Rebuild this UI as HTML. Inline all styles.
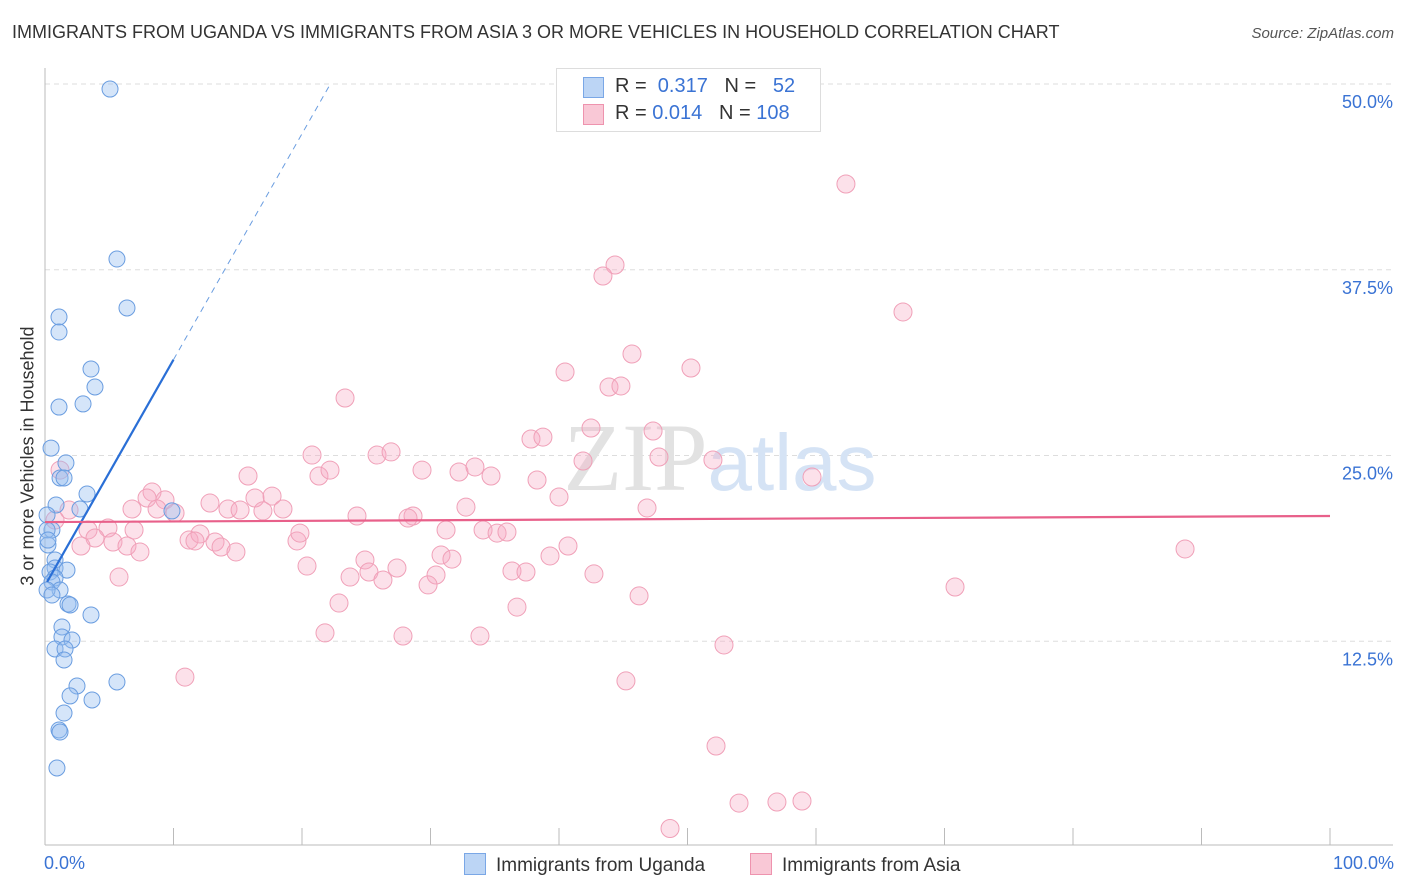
<!DOCTYPE html>
<html><head><meta charset="utf-8"><style>
body{margin:0;background:#fff;font-family:"Liberation Sans",sans-serif}
#wrap{position:relative;width:1406px;height:892px;overflow:hidden}
.t{position:absolute;white-space:nowrap}
</style></head><body>
<div id="wrap">
<div class="t" style="left:12px;top:22px;font-size:18px;color:#333">IMMIGRANTS FROM UGANDA VS IMMIGRANTS FROM ASIA 3 OR MORE VEHICLES IN HOUSEHOLD CORRELATION CHART</div>
<div class="t" style="right:12px;top:25px;font-size:15px;color:#555;font-style:italic">Source: ZipAtlas.com</div>
<div class="t" style="left:28px;top:456px;font-size:18px;color:#333;transform:translate(-50%,-50%) rotate(-90deg)">3 or more Vehicles in Household</div>
<svg id="plot" width="1406" height="892" style="position:absolute;left:0;top:0"></svg>
<div class="t" style="left:556px;top:68px;width:263px;height:62px;border:1px solid #ddd;background:#fff;font-size:20px;color:#333">
 <div style="position:absolute;left:26px;top:8px;width:19px;height:19px;background:#bcd5f5;border:1px solid #7aa7e6"></div>
 <div style="position:absolute;left:58px;top:6px">R = <span style="color:#3a73d4">&nbsp;0.317</span>&nbsp;&nbsp;&nbsp;N = &nbsp;&nbsp;<span style="color:#3a73d4">52</span></div>
 <div style="position:absolute;left:26px;top:35px;width:19px;height:19px;background:#f9c8d6;border:1px solid #ee93ae"></div>
 <div style="position:absolute;left:58px;top:33px">R = <span style="color:#3a73d4">0.014</span>&nbsp;&nbsp;&nbsp;N = <span style="color:#3a73d4">108</span></div>
</div>
<div class="t" style="left:44px;top:853px;font-size:18px;color:#3a73d4">0.0%</div>
<div class="t" style="right:12px;top:853px;font-size:18px;color:#3a73d4">100.0%</div>
<div class="t" style="left:464px;top:853px;font-size:19px;color:#333"><span style="display:inline-block;width:20px;height:20px;background:#bcd5f5;border:1px solid #7aa7e6;vertical-align:-4px;margin-right:10px"></span>Immigrants from Uganda</div>
<div class="t" style="left:750px;top:853px;font-size:19px;color:#333"><span style="display:inline-block;width:20px;height:20px;background:#f9c8d6;border:1px solid #ee93ae;vertical-align:-4px;margin-right:10px"></span>Immigrants from Asia</div>
</div>
<script>
const yTicks=[12.5,25,37.5,50];
const yTickLabels=["12.5%","25.0%","37.5%","50.0%"];
const ugX=[5.06,5.6,6.38,1.09,1.09,3.58,3.89,1.09,2.96,0.47,1.63,1.17,1.48,3.27,2.72,0.86,0.16,0.54,0.16,0.23,0.78,0.78,1.71,0.39,0.78,0.54,1.17,1.79,1.95,0.16,3.58,1.32,1.32,2.1,0.78,1.56,1.48,5.6,2.49,1.95,3.66,1.48,1.09,1.17,0.93,9.88,0.23,0.54];
const ugY=[49.66,38.22,34.93,34.32,33.31,30.82,29.61,28.26,28.47,25.5,24.5,23.49,23.49,22.41,21.4,21.67,21.0,19.99,19.99,18.98,17.97,17.43,17.29,17.16,16.76,16.49,15.95,15.01,14.94,15.95,14.27,13.46,12.79,12.58,11.98,11.98,11.24,9.76,9.49,8.82,8.55,7.67,6.53,6.39,3.97,21.27,19.31,15.61];
const asX=[62.33,44.36,43.42,66.77,45.68,40.47,50.27,43.89,44.82,23.35,42.49,37.82,38.75,47.32,20.78,25.84,26.93,41.87,47.78,51.98,15.8,21.32,22.18,29.34,32.22,33.46,34.71,38.29,59.69,8.33,9.34,7.94,12.84,16.34,17.67,14.24,15.18,16.96,18.52,24.28,28.64,28.25,32.76,46.85,40.0,6.77,8.72,10.12,1.87,3.35,4.9,6.93,3.89,11.21,12.06,13.23,13.7,14.86,11.67,5.29,6.38,7.39,2.8,19.61,19.84,31.21,34.09,35.18,35.95,40.7,39.3,30.82,31.67,24.9,20.39,23.74,25.21,26.3,27.39,30.43,29.81,36.34,37.43,42.72,5.76,22.88,36.73,46.23,70.82,88.72,21.79,27.86,33.85,52.84,10.89,45.21,52.22,54.01,56.96,58.91,48.64,0.78,1.17];
const asY=[43.27,37.82,37.08,34.66,31.83,30.62,30.89,29.61,29.68,28.87,26.85,26.11,26.24,26.65,25.03,25.03,25.24,24.63,24.9,24.7,23.62,23.62,24.02,24.02,23.89,24.23,23.62,23.35,23.55,22.54,22.01,22.14,21.8,22.14,22.27,21.4,21.33,21.27,21.4,20.93,20.93,20.79,21.53,21.47,22.21,21.4,21.4,21.13,21.33,19.99,20.12,19.99,19.45,19.31,19.72,19.18,18.84,18.51,19.25,19.18,18.91,18.51,18.91,19.25,19.78,19.99,19.99,19.78,19.85,18.91,18.24,18.3,18.03,17.97,17.56,16.82,17.16,16.62,17.43,16.96,16.29,17.23,17.16,17.03,16.82,15.07,14.8,15.55,16.15,18.71,13.06,12.85,12.85,12.25,10.09,9.83,5.45,1.61,1.68,1.75,-0.1,20.66,24.02];
const ugTrend=[16.25,1.52];
const asTrend=[20.52,20.93];
const NS="http://www.w3.org/2000/svg";
const svg=document.getElementById('plot');
const X=v=>45+v*12.85, Y=v=>827-v*14.86;
function mk(tag,a){const e=document.createElementNS(NS,tag);for(const k in a)e.setAttribute(k,a[k]);svg.appendChild(e);return e;}
yTicks.forEach((t,i)=>{
 const g=mk('line',{x1:45,x2:1393,y1:Y(t),y2:Y(t),stroke:'#ddd','stroke-dasharray':'5,4'});
 
 
 const l=mk('text',{x:1393,y:Y(t)+24,'text-anchor':'end','font-size':18,fill:'#3a73d4','font-family':'Liberation Sans, sans-serif'});
 l.textContent=yTickLabels[i];
 
 
});
const ax=mk('line',{x1:45,x2:45,y1:68,y2:845,stroke:'#bbb'});


const bx=mk('line',{x1:45,x2:1393,y1:845,y2:845,stroke:'#bbb'});


for(let k=1;k<=10;k++){const tk=mk('line',{x1:X(k*10),x2:X(k*10),y1:828,y2:845,stroke:'#bbb'});
 
 }
const wm=mk('text',{x:720,y:490,'text-anchor':'middle','font-size':96,'font-family':'Liberation Serif, serif',fill:'#e2e2e2'});
wm.innerHTML='ZIP<tspan fill="#d5e3f5" font-family="Liberation Sans, sans-serif" font-size="80">atlas</tspan>';


asX.forEach((x,i)=>{const c=mk('circle',{cx:X(x),cy:Y(asY[i]),r:9,fill:'rgba(246,170,194,0.35)',stroke:'#f0a0b8','stroke-width':1});
 
 });
ugX.forEach((x,i)=>{const c=mk('circle',{cx:X(x),cy:Y(ugY[i]),r:8,fill:'rgba(150,190,240,0.4)',stroke:'#6a9de0','stroke-width':1});
 
 });
const xe=(50-ugTrend[0])/ugTrend[1];
const l1=mk('line',{x1:X(0.16),y1:Y(ugTrend[0]+ugTrend[1]*0.16),x2:X(10),y2:Y(ugTrend[0]+ugTrend[1]*10),stroke:'#2a6fd6','stroke-width':2.2});


const l2=mk('line',{x1:X(10),y1:Y(ugTrend[0]+ugTrend[1]*10),x2:X(xe),y2:Y(50),stroke:'#6a9de0','stroke-width':1,'stroke-dasharray':'6,5'});


const l3=mk('line',{x1:X(0),y1:Y(asTrend[0]),x2:X(100),y2:Y(asTrend[1]),stroke:'#e8608a','stroke-width':2.2});


</script>
</body></html>
